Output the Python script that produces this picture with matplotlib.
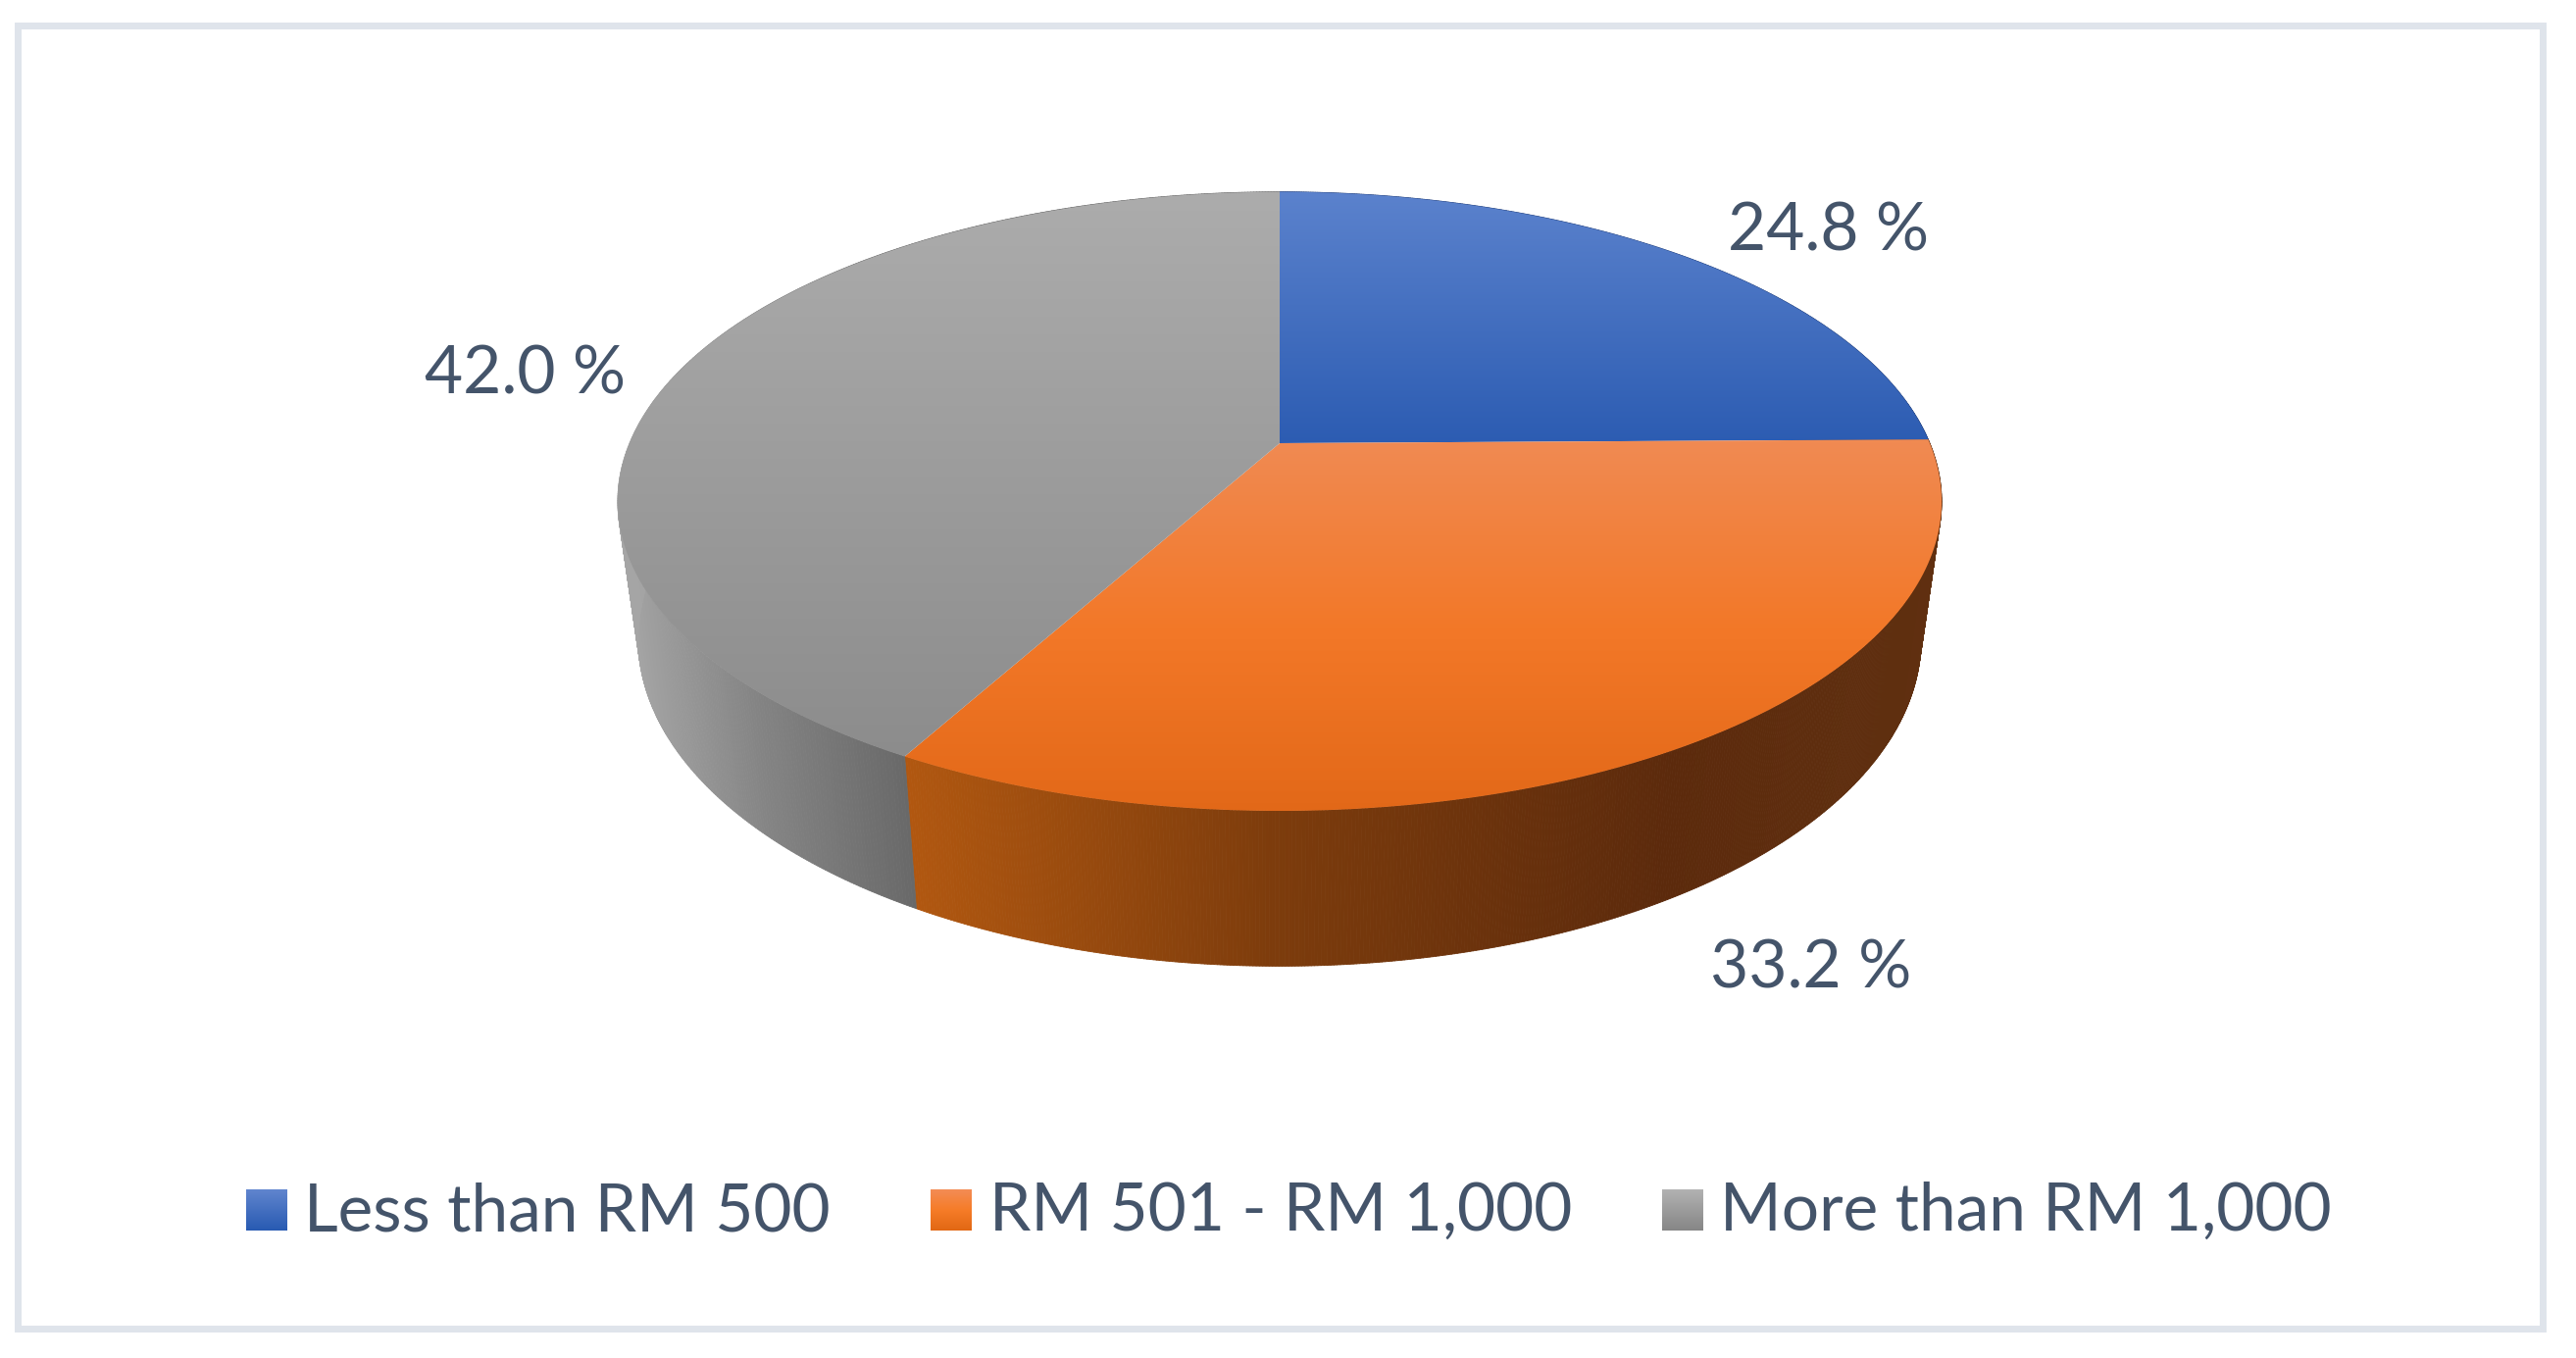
import numpy as np
import matplotlib
matplotlib.use("Agg")
import matplotlib.pyplot as plt
from matplotlib.patches import Rectangle, PathPatch
from matplotlib.path import Path
from matplotlib.collections import PolyCollection

categories = ["Less than RM 500", "RM 501 - RM 1,000", "More than RM 1,000"]
shares = [24.8, 33.2, 42.0]

W, H = 2627, 1385
TEXT = "#44546a"
FONT = "Lato"
FS = 48.7

top_stops = [
    [(196, (91, 130, 205)), (452, (44, 92, 178))],
    [(452, (240, 138, 82)), (640, (243, 120, 40)), (830, (226, 104, 24))],
    [(196, (172, 172, 172)), (775, (140, 140, 140))],
]
side_stops = [
    [(0, (40, 70, 130)), (W, (40, 70, 130))],
    [(924, (178, 88, 16)), (1300, (125, 60, 12)), (1700, (92, 42, 12)), (1985, (96, 48, 16))],
    [(630, (168, 168, 168)), (780, (132, 132, 132)), (935, (104, 104, 104))],
]
swatch_stops = [
    [(0, (96, 133, 206)), (1, (40, 90, 178))],
    [(0, (243, 140, 84)), (0.5, (246, 124, 40)), (1, (226, 104, 20))],
    [(0, (178, 178, 178)), (1, (134, 134, 134))],
]

CX, CY = 1305, 452
K, AX, AY = 0.188, 663, 304.5
DY, SX, SY = 137, 0.969, 1.057


def project(theta, bottom=False):
    x, y = np.sin(theta), np.cos(theta)
    d = 1 + K * y
    px, py = AX * x / d, AY * y / d
    if bottom:
        return CX + SX * px, CY + DY - SY * py
    return CX + px, CY - py


def ramp(stops, t):
    pos = [s[0] for s in stops]
    return np.stack([np.interp(t, pos, [s[1][i] for s in stops]) for i in range(3)], axis=-1) / 255


fig = plt.figure(figsize=(W / 100, H / 100), dpi=100, facecolor="white")
ax = fig.add_axes([0, 0, 1, 1])
ax.set_xlim(0, W)
ax.set_ylim(H, 0)
ax.axis("off")

ax.add_patch(Rectangle((18, 26), 2575, 1329, fill=False, ec="#dfe4eb", lw=5))

edges = np.cumsum([0] + shares) / sum(shares) * 2 * np.pi

# Rim of the disc: a strip of quads swept between the two outlines
for i in range(len(shares)):
    th = np.linspace(edges[i], edges[i + 1], 500)
    xt, yt = project(th)
    xb, yb = project(th, bottom=True)
    quads = [[(xt[j], yt[j]), (xt[j + 1], yt[j + 1]), (xb[j + 1], yb[j + 1]), (xb[j], yb[j])]
             for j in range(len(th) - 1)]
    cols = ramp(side_stops[i], (xt[:-1] + xb[:-1]) / 2)
    ax.add_collection(PolyCollection(quads, facecolors=cols, edgecolors=cols, linewidths=0.6, zorder=2))

# Top faces with a vertical gradient
for i in range(len(shares)):
    th = np.linspace(edges[i], edges[i + 1], 400)
    xt, yt = project(th)
    verts = [(CX, CY)] + list(zip(xt, yt)) + [(CX, CY)]
    patch = PathPatch(Path(verts), fc="none", ec="none", transform=ax.transData)
    ax.add_patch(patch)
    rows = np.arange(0, H)
    img = ramp(top_stops[i], rows)[:, None, :]
    im = ax.imshow(img, extent=(0, W, H, 0), aspect="auto", zorder=3, interpolation="bilinear")
    im.set_clip_path(patch)
ax.set_xlim(0, W)
ax.set_ylim(H, 0)

# Data labels
label_xy = [(1865, 236), (1847, 988), (536, 383)]
for v, (lx, ly) in zip(shares, label_xy):
    ax.text(lx, ly, f"{v:.1f} %", color=TEXT, fontsize=FS, family=FONT,
            ha="center", va="center", zorder=5)

# Legend
swatch_x = [251, 949, 1695]
text_x = [310, 1009, 1754]
for name, sx, tx, st in zip(categories, swatch_x, text_x, swatch_stops):
    g = ramp(st, np.linspace(0, 1, 42))[:, None, :]
    ax.imshow(g, extent=(sx, sx + 42, 1255, 1213), aspect="auto", zorder=4)
    ax.text(tx, 1236, name, color=TEXT, fontsize=FS, family=FONT, ha="left", va="center", zorder=5)
ax.set_xlim(0, W)
ax.set_ylim(H, 0)

fig.savefig("out.png", dpi=100, facecolor="white")
